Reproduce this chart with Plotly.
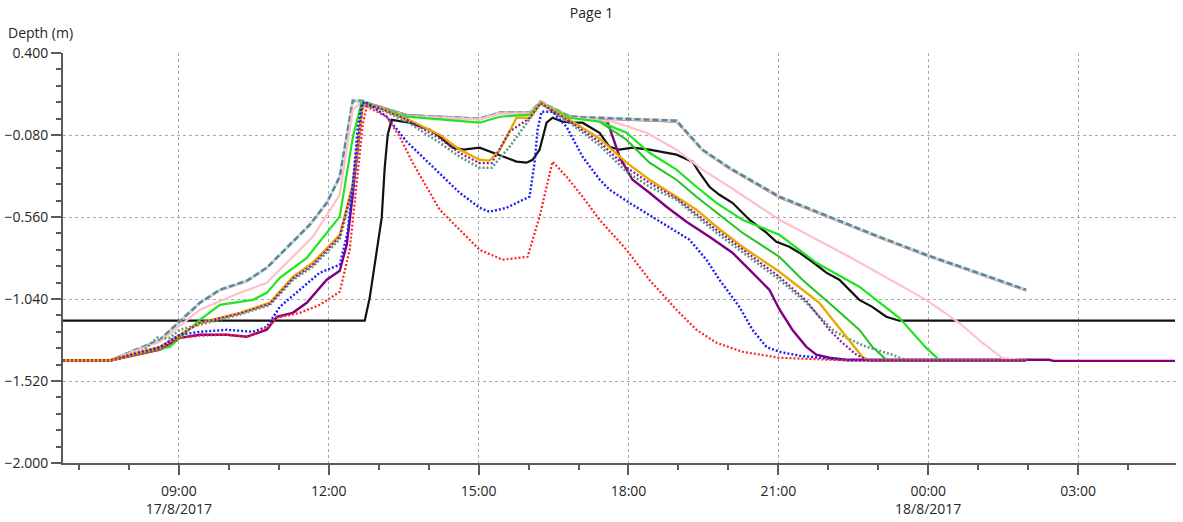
import pandas as pd
import plotly.graph_objects as go

BASE = pd.Timestamp("2017-08-17 00:00")

# ---- data: time in hours from 17/8/2017 00:00, depth in m ----
black_t = [6.68, 12.72, 12.82, 12.96, 13.06, 13.12, 13.18, 13.26, 13.62, 14.02, 14.22, 14.48, 14.70, 15.02,
           15.28, 15.48, 15.76, 15.96, 16.08, 16.22, 16.36, 16.48, 16.68, 16.88, 17.08, 17.42, 17.62, 17.82,
           18.08, 18.42, 18.96, 19.28, 19.42, 19.62, 19.82, 20.08, 20.42, 20.76, 20.96, 21.22, 21.42, 21.68,
           21.96, 22.22, 22.62, 22.88, 23.16, 23.42, 28.94]
black_d = [-1.167, -1.167, -1.033, -0.769, -0.564, -0.271, -0.078, 0.009, -0.008, -0.049, -0.090, -0.154, -0.166,
           -0.154, -0.184, -0.207, -0.236, -0.242, -0.225, -0.166, -0.008, 0.021, -0.002, -0.008, -0.008, -0.067,
           -0.149, -0.166, -0.154, -0.166, -0.195, -0.236, -0.301, -0.383, -0.430, -0.477, -0.576, -0.652,
           -0.705, -0.734, -0.769, -0.822, -0.886, -0.927, -1.045, -1.086, -1.144, -1.167, -1.167]

env_t = [6.68, 7.62, 8.62, 9.02, 9.42, 9.82, 10.36, 10.76, 11.22, 11.62, 11.96, 12.22, 12.48, 12.66, 12.96,
         13.56, 15.02, 15.42, 16.02, 16.24, 16.82, 18.96, 19.48, 20.02, 21.02, 23.02, 23.96, 25.96]
env_d = [-1.40, -1.40, -1.279, -1.173, -1.062, -0.986, -0.933, -0.857, -0.722, -0.605, -0.477, -0.324, 0.121,
         0.121, 0.086, 0.033, 0.015, 0.050, 0.050, 0.115, 0.027, 0.004, -0.166, -0.272, -0.441, -0.676, -0.781,
         -0.986]
red_d = [-1.40, -1.40, -1.282, -1.176, -1.066, -0.990, -0.937, -0.861, -0.726, -0.609, -0.481, -0.328, 0.117,
         0.117, 0.082, 0.029, 0.011, 0.046, 0.046, 0.111, 0.021, -0.004, -0.172, -0.278, -0.447, -0.682, -0.787,
         -0.992]

pink_t = [6.68, 7.62, 8.62, 9.42, 10.22, 10.76, 11.28, 11.68, 12.22, 12.48, 12.66, 12.96, 13.56, 15.02, 15.42,
          16.02, 16.24, 16.82, 17.68, 18.36, 18.96, 19.48, 20.02, 21.02, 22.42, 23.96, 24.62, 25.08, 25.48, 25.96]
pink_d = [-1.40, -1.40, -1.29, -1.103, -1.004, -0.945, -0.793, -0.676, -0.43, 0.068, 0.115, 0.086, 0.030, 0.012,
          0.047, 0.047, 0.112, 0.022, -0.002, -0.067, -0.166, -0.283, -0.383, -0.576, -0.793, -1.045, -1.179,
          -1.296, -1.384, -1.40]

greenA_t = [6.68, 7.62, 8.82, 9.42, 9.82, 10.48, 10.76, 11.02, 11.56, 12.22, 12.48, 12.66, 12.96, 13.56, 15.02,
            15.42, 16.02, 16.24, 16.82, 17.42, 17.96, 18.42, 18.96, 19.36, 19.76, 20.28, 21.02, 21.76, 22.62,
            23.42, 23.96, 24.22, 25.96]
greenA_d = [-1.40, -1.40, -1.32, -1.162, -1.074, -1.045, -1.004, -0.916, -0.799, -0.558, -0.096, 0.115, 0.086,
            0.027, -0.008, 0.027, 0.039, 0.109, 0.021, -0.002, -0.067, -0.184, -0.283, -0.383, -0.477, -0.576,
            -0.664, -0.828, -0.968, -1.150, -1.326, -1.396, -1.40]

greenB_t = [17.42, 17.96, 18.42, 18.96, 19.36, 19.76, 20.28, 21.02, 21.48, 22.08, 22.62, 22.88, 23.16, 25.96]
greenB_d = [-0.002, -0.108, -0.242, -0.342, -0.441, -0.535, -0.652, -0.793, -0.927, -1.08, -1.220, -1.320,
            -1.396, -1.40]

orange_t = [6.68, 7.62, 8.62, 9.42, 10.22, 10.82, 11.28, 11.68, 12.22, 12.48, 12.62, 12.68, 12.96, 13.56, 14.22,
            14.62, 15.02, 15.22, 15.42, 15.76, 16.02, 16.24, 16.82, 17.42, 17.96, 18.42, 18.96, 19.36, 19.76,
            20.28, 21.02, 21.22, 21.82, 22.36, 22.68, 22.82, 25.96]
orange_d = [-1.40, -1.40, -1.32, -1.179, -1.121, -1.062, -0.910, -0.828, -0.664, -0.371, -0.037, 0.097, 0.086,
            0.015, -0.078, -0.166, -0.225, -0.23, -0.17, 0.021, 0.021, 0.109, 0.009, -0.10, -0.242, -0.342,
            -0.441, -0.517, -0.617, -0.734, -0.881, -0.927, -1.062, -1.261, -1.378, -1.40, -1.40]

sgreen_t = [6.68, 7.62, 8.30, 8.56, 8.80, 9.02, 9.42, 10.22, 10.82, 11.28, 11.68, 12.22, 12.48, 12.62, 12.68,
            12.96, 13.56, 14.22, 14.62, 15.02, 15.26, 15.62, 16.02, 16.24, 16.82, 17.42, 17.96, 18.42, 18.96,
            19.76, 21.02, 21.56, 22.08, 22.36, 22.76, 23.28, 23.56, 25.96]
sgreen_d = [-1.40, -1.40, -1.34, -1.267, -1.27, -1.22, -1.19, -1.13, -1.075, -0.93, -0.85, -0.69, -0.40, -0.06,
            0.09, 0.08, -0.002, -0.125, -0.207, -0.272, -0.272, -0.149, 0.015, 0.103, -0.008, -0.14, -0.295,
            -0.383, -0.459, -0.652, -0.927, -1.062, -1.220, -1.267, -1.320, -1.366, -1.40, -1.40]

pdot_t = [6.68, 7.62, 8.62, 9.42, 10.22, 10.82, 11.28, 11.68, 12.22, 12.48, 12.62, 12.68, 12.96, 13.56, 14.22,
          14.62, 15.02, 15.26, 15.62, 16.02, 16.24, 16.82, 17.42, 17.96, 18.42, 18.96, 19.76, 21.02, 21.56, 22.02,
          22.28, 22.56, 22.80, 25.96]
pdot_d = [-1.40, -1.40, -1.32, -1.18, -1.125, -1.068, -0.92, -0.84, -0.675, -0.38, -0.04, 0.095, 0.085, 0.01,
          -0.10, -0.185, -0.245, -0.245, -0.06, 0.018, 0.106, 0.0, -0.12, -0.27, -0.36, -0.45, -0.635, -0.91,
          -1.05, -1.220, -1.296, -1.366, -1.40, -1.40]

blue_t = [6.68, 7.62, 8.62, 9.02, 9.42, 9.96, 10.48, 10.76, 11.02, 11.42, 11.82, 12.22, 12.38, 12.48, 12.58,
          12.66, 12.72, 12.88, 13.16, 13.56, 14.08, 14.62, 15.02, 15.22, 15.56, 16.02, 16.12, 16.18, 16.26, 16.48,
          16.76, 17.08, 17.42, 17.62, 18.02, 18.68, 19.22, 19.56, 19.82, 20.22, 20.48, 20.76, 21.02, 21.42,
          21.82, 22.40, 25.96]
blue_d = [-1.40, -1.40, -1.326, -1.249, -1.232, -1.220, -1.232, -1.203, -1.086, -0.986, -0.886, -0.840, -0.646,
          -0.371, -0.037, 0.097, 0.115, 0.086, 0.027, -0.119, -0.266, -0.418, -0.506, -0.529, -0.506, -0.441,
          -0.242, -0.049, 0.056, 0.056, -0.032, -0.207, -0.34, -0.40, -0.477, -0.594, -0.693, -0.81, -0.927,
          -1.086, -1.220, -1.320, -1.349, -1.372, -1.384, -1.40, -1.40]

rdot_t = [6.68, 7.62, 8.62, 9.02, 9.42, 9.96, 10.36, 10.76, 10.96, 11.42, 11.82, 12.22, 12.42, 12.56, 12.68,
          12.76, 13.16, 13.42, 13.68, 14.22, 14.62, 15.02, 15.48, 15.98, 16.22, 16.48, 16.76, 17.08, 17.42, 17.96,
          18.42, 18.96, 19.36, 19.76, 20.28, 21.02, 22.42, 25.96]
rdot_d = [-1.40, -1.40, -1.337, -1.267, -1.255, -1.249, -1.261, -1.209, -1.150, -1.121, -1.074, -0.998, -0.752,
          -0.371, -0.020, 0.086, 0.027, -0.090, -0.242, -0.517, -0.634, -0.752, -0.810, -0.793, -0.558, -0.236,
          -0.324, -0.441, -0.576, -0.752, -0.928, -1.103, -1.220, -1.296, -1.349, -1.384, -1.40, -1.40]

purple_t = [6.68, 7.62, 8.62, 9.02, 9.42, 9.96, 10.36, 10.76, 10.96, 11.28, 11.56, 11.96, 12.22, 12.36, 12.48,
            12.58, 12.66, 12.68, 12.96, 13.56, 15.02, 15.42, 16.02, 16.24, 16.82, 17.42, 17.58, 17.68, 17.82,
            18.08, 18.42, 18.76, 19.16, 19.62, 20.08, 20.48, 20.82, 21.02, 21.28, 21.56, 21.76, 22.02, 22.40,
            26.42, 26.50, 28.94]
purple_d = [-1.40, -1.40, -1.337, -1.267, -1.249, -1.249, -1.261, -1.220, -1.144, -1.121, -1.062, -0.927, -0.875,
            -0.722, -0.430, -0.137, 0.080, 0.115, 0.090, 0.036, 0.015, 0.050, 0.050, 0.112, 0.030, 0.009, -0.002,
            -0.090, -0.207, -0.342, -0.418, -0.500, -0.588, -0.676, -0.769, -0.886, -0.986, -1.10, -1.220,
            -1.320, -1.366, -1.384, -1.396, -1.396, -1.402, -1.402]

y_ticks = [0.4, -0.08, -0.56, -1.04, -1.52, -2.0]
x_tick_hours = [9, 12, 15, 18, 21, 24, 27]
x_tick_text = ["09:00<br>17/8/2017", "12:00", "15:00", "18:00", "21:00", "00:00<br>18/8/2017", "03:00"]
x_range_hours = [6.68, 28.96]
y_range = [-2.0, 0.4]


def tx(hours):
    return BASE + pd.to_timedelta(pd.Series(hours, dtype=float), unit="h")


DOT = "2px,2px"
series = [
    (black_t, black_d, "#111111", 2.2, "solid"),
    (purple_t, purple_d, "#800080", 2.4, "solid"),
    (env_t, red_d, "#e82a2a", 1.6, "solid"),
    (env_t, env_d, "#b4e4ec", 3.0, "solid"),
    (env_t, env_d, "#6b7f8c", 2.4, "6px,3px"),
    (pink_t, pink_d, "#ffc0cb", 2.2, "solid"),
    (greenB_t, greenB_d, "#22c422", 2.0, "solid"),
    (greenA_t, greenA_d, "#1ee61e", 2.2, "solid"),
    (sgreen_t, sgreen_d, "#5e9c80", 2.6, DOT),
    (orange_t, orange_d, "#e8aa00", 2.4, "solid"),
    (pdot_t, pdot_d, "#8e1a9c", 2.2, DOT),
    (blue_t, blue_d, "#1c1cff", 2.4, DOT),
    (rdot_t, rdot_d, "#ff2424", 2.2, DOT),
]

fig = go.Figure()
for t, d, color, w, dash in series:
    fig.add_trace(go.Scatter(x=tx(t), y=d, mode="lines",
                             line=dict(color=color, width=w, dash=dash),
                             showlegend=False, hoverinfo="skip"))

FONT = "Open Sans, Noto Sans, sans-serif"
axis_col = "#5a5a5a"
grid_col = "#a8a8a8"

fig.update_layout(
    width=1183, height=522,
    margin=dict(l=63, r=7, t=53, b=59, autoexpand=False),
    paper_bgcolor="white", plot_bgcolor="white",
    font=dict(family=FONT, size=14, color="#262626"),
    title=dict(text="Page 1", x=0.5, xref="container", xanchor="center",
               y=1 - 13 / 522, yref="container", yanchor="middle",
               font=dict(family=FONT, size=14, color="#262626")),
    annotations=[dict(text="Depth (m)", xref="paper", yref="paper",
                      x=-57 / 1113, y=1 + 20 / 410, xanchor="left", yanchor="middle",
                      showarrow=False, font=dict(family=FONT, size=14, color="#262626"))],
)

fig.update_xaxes(
    type="date", automargin=False,
    range=list(tx(x_range_hours)),
    tickmode="array", tickvals=list(tx(x_tick_hours)), ticktext=x_tick_text,
    ticks="outside", ticklen=10, tickwidth=2, tickcolor=axis_col,
    ticklabelstandoff=4,
    showline=True, linecolor=axis_col, linewidth=2,
    showgrid=True, gridcolor=grid_col, gridwidth=1, griddash="dot",
    zeroline=False,
    minor=dict(tickmode="linear", tick0=BASE, dtick=3600000, ticks="outside",
               ticklen=5, tickwidth=1.5, tickcolor=axis_col, showgrid=False),
)
fig.update_yaxes(
    range=y_range, automargin=False,
    tickmode="array", tickvals=y_ticks, tickformat=".3f",
    ticks="outside", ticklen=10, tickwidth=2, tickcolor=axis_col,
    showline=True, linecolor=axis_col, linewidth=2,
    showgrid=True, gridcolor=grid_col, gridwidth=1, griddash="dot",
    zeroline=False,
    minor=dict(tickmode="linear", tick0=-2.0, dtick=0.096, ticks="outside",
               ticklen=5, tickwidth=1.5, tickcolor=axis_col, showgrid=False),
)

fig.write_html("out.html")
